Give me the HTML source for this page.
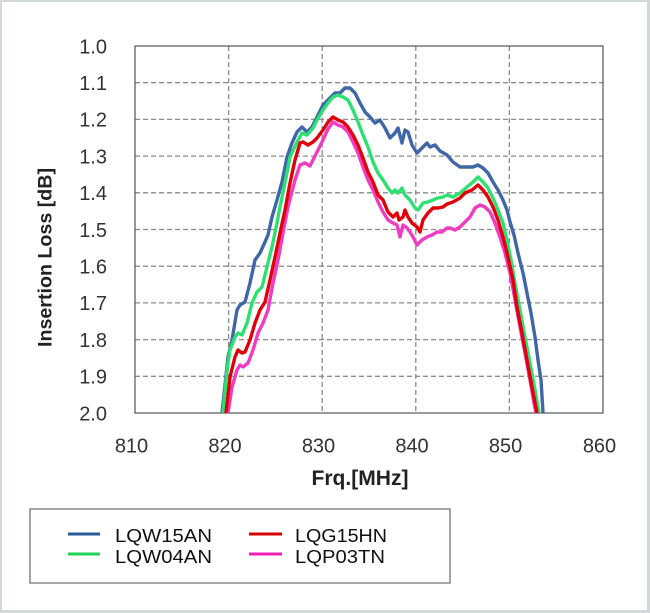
<!DOCTYPE html>
<html><head><meta charset="utf-8">
<style>
html,body{margin:0;padding:0;background:#fff;}
.wrap{position:relative;width:650px;height:613px;box-sizing:border-box;border-style:solid;border-color:#d3d8db;border-width:2px 3px 3px 2px;background:#fff;overflow:hidden;}
svg{position:absolute;left:-2px;top:-2px;}
</style></head>
<body>
<div class="wrap">
<svg width="650" height="613" viewBox="0 0 650 613" xmlns="http://www.w3.org/2000/svg">
<defs><clipPath id="pc"><rect x="135" y="46" width="468" height="367"/></clipPath></defs>
<g stroke="#8c8c8c" stroke-width="1.3" stroke-dasharray="5,3" fill="none">
<line x1="135" y1="82.7" x2="603" y2="82.7"/>
<line x1="135" y1="119.4" x2="603" y2="119.4"/>
<line x1="135" y1="156.1" x2="603" y2="156.1"/>
<line x1="135" y1="192.8" x2="603" y2="192.8"/>
<line x1="135" y1="229.5" x2="603" y2="229.5"/>
<line x1="135" y1="266.2" x2="603" y2="266.2"/>
<line x1="135" y1="302.9" x2="603" y2="302.9"/>
<line x1="135" y1="339.6" x2="603" y2="339.6"/>
<line x1="135" y1="376.3" x2="603" y2="376.3"/>
<line x1="228.6" y1="46" x2="228.6" y2="413"/>
<line x1="322.2" y1="46" x2="322.2" y2="413"/>
<line x1="415.8" y1="46" x2="415.8" y2="413"/>
<line x1="509.4" y1="46" x2="509.4" y2="413"/>
</g>
<rect x="135" y="46" width="468" height="367" fill="none" stroke="#555" stroke-width="1.2"/>
<g font-family="Liberation Sans, sans-serif" font-size="20" fill="#333" text-anchor="end">
<text x="107" y="53.3">1.0</text>
<text x="107" y="90">1.1</text>
<text x="107" y="126.7">1.2</text>
<text x="107" y="163.4">1.3</text>
<text x="107" y="200.1">1.4</text>
<text x="107" y="236.8">1.5</text>
<text x="107" y="273.5">1.6</text>
<text x="107" y="310.2">1.7</text>
<text x="107" y="346.9">1.8</text>
<text x="107" y="383.6">1.9</text>
<text x="107" y="420.3">2.0</text>
</g>
<g font-family="Liberation Sans, sans-serif" font-size="20" fill="#333" text-anchor="middle">
<text x="131.5" y="452.5">810</text>
<text x="225" y="452.5">820</text>
<text x="318.5" y="452.5">830</text>
<text x="412" y="452.5">840</text>
<text x="505.6" y="452.5">850</text>
<text x="599.5" y="452.5">860</text>
</g>
<text x="360" y="485" font-family="Liberation Sans, sans-serif" font-weight="bold" font-size="21" fill="#222" text-anchor="middle" textLength="97" lengthAdjust="spacingAndGlyphs">Frq.[MHz]</text>
<text transform="translate(51.7,257.5) rotate(-90)" x="0" y="0" font-family="Liberation Sans, sans-serif" font-weight="bold" font-size="19.5" fill="#222" text-anchor="middle" textLength="179" lengthAdjust="spacingAndGlyphs">Insertion Loss [dB]</text>
<g clip-path="url(#pc)" fill="none" stroke-width="3.4" stroke-linejoin="round" stroke-linecap="round">
<polyline stroke="#3f66a6" points="222,413 228,357 232,340 237,310 240,305 245,302 250,283 255,260 260,253 265,242 268,235 272,217 277,200 282,182 287,157 292,143 297,132 302,127 307,132 312,127 317,117 323,105 330,98 335,93 340,93 345,88 350,88 355,93 360,103 365,112 370,117 375,123 380,120 385,128 390,138 395,133 398,128 402,143 405,130 408,132 412,145 417,153 422,148 427,143 430,147 435,145 440,151 447,155 453,162 460,167 467,167 473,167 478,165 483,168 488,173 493,182 498,190 503,200 507,210 510,222 514,235 518,253 523,273 527,293 531,313 535,337 538,360 541,380 543,413 544,420"/>
<polyline stroke="#2ee072" points="223,420 223,413 227,370 230,350 235,337 238,333 242,335 247,323 252,303 257,292 262,287 267,267 272,247 277,223 280,207 285,183 290,157 297,142 302,133 307,135 313,128 317,120 323,110 328,103 333,97 338,95 343,97 348,100 353,110 358,122 363,135 368,147 373,162 378,173 383,180 388,188 392,193 395,190 398,193 402,188 405,195 410,200 415,208 418,210 423,203 428,202 433,200 438,198 443,197 447,195 453,197 460,193 467,187 473,182 478,177 483,182 488,188 493,198 498,210 503,223 507,240 511,260 515,283 520,310 525,337 530,363 535,390 539,413 540,420"/>
<polyline stroke="#f03cc0" points="228,420 228,413 232,387 237,370 240,365 243,367 248,363 253,350 258,333 263,323 268,310 273,283 278,260 283,233 288,207 295,180 300,165 305,163 310,166 315,156 322,142 328,129 333,122 338,125 343,127 348,132 353,142 358,153 363,167 368,180 373,190 378,202 383,212 388,220 393,223 397,225 400,237 403,225 407,228 410,232 413,237 417,245 422,240 427,237 432,235 437,232 442,232 447,228 450,228 455,230 460,227 465,222 470,217 475,208 480,205 485,207 490,212 495,223 500,237 505,253 510,273 515,300 520,327 525,353 530,380 534,403 536,413 537,420"/>
<polyline stroke="#e0000c" points="226,420 226,413 230,377 235,357 238,350 242,353 245,352 250,340 255,323 260,310 265,302 270,280 275,257 280,233 285,210 290,183 295,160 300,143 303,142 308,145 313,142 317,138 323,130 328,122 333,117 338,120 343,122 348,127 353,135 358,145 363,158 368,172 373,182 378,195 383,200 388,212 393,217 397,213 399,220 403,217 405,210 408,217 412,223 417,227 420,232 423,220 428,213 433,208 438,208 443,207 447,204 453,202 460,198 465,193 472,190 478,185 483,190 488,197 493,207 498,220 503,237 508,257 513,280 517,307 522,333 527,360 532,387 537,413 538,420"/>
</g>
<rect x="30" y="509" width="420" height="74" fill="#fff" stroke="#6a6a6a" stroke-width="1.2"/>
<g stroke-width="3">
<line x1="68" y1="534" x2="100" y2="534" stroke="#2a5a9a"/>
<line x1="68" y1="554" x2="100" y2="554" stroke="#1ed25a"/>
<line x1="249" y1="534" x2="282" y2="534" stroke="#d40000"/>
<line x1="249" y1="554" x2="282" y2="554" stroke="#f01cb8"/>
</g>
<g font-family="Liberation Sans, sans-serif" font-size="18" fill="#111">
<text x="115" y="542" textLength="97" lengthAdjust="spacingAndGlyphs">LQW15AN</text>
<text x="115" y="563" textLength="97" lengthAdjust="spacingAndGlyphs">LQW04AN</text>
<text x="295" y="542" textLength="92" lengthAdjust="spacingAndGlyphs">LQG15HN</text>
<text x="295" y="563" textLength="90" lengthAdjust="spacingAndGlyphs">LQP03TN</text>
</g>
</svg>
</div>
</body></html>
